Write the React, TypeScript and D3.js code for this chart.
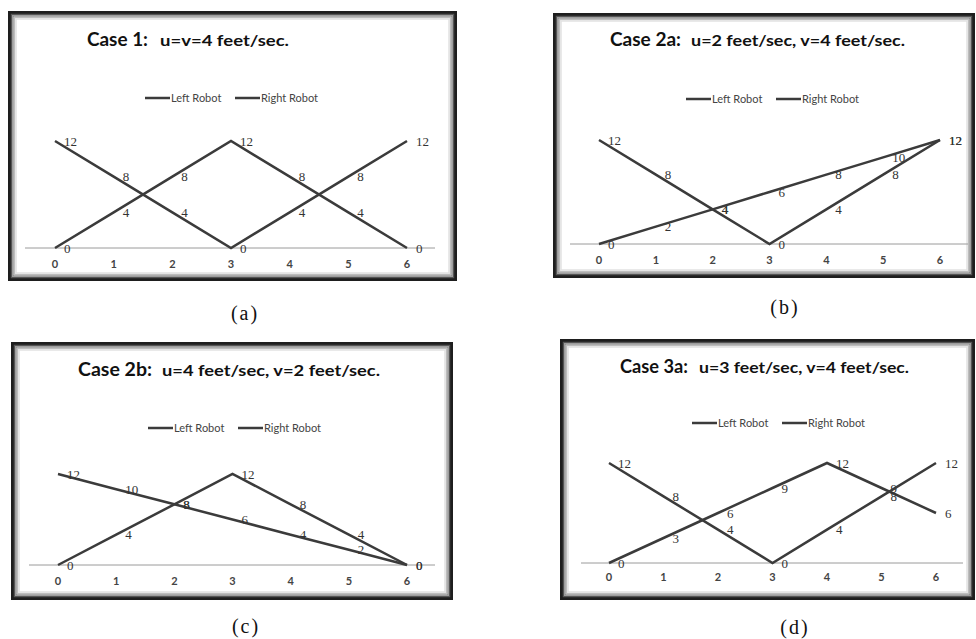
import React from 'react';
import * as d3 from 'd3';

// time steps (seconds) on the x axis
const timeSteps = [0, 1, 2, 3, 4, 5, 6];

// positions (feet) of each robot per case
const case1Left = [0, 4, 8, 12, 8, 4, 0];
const case1Right = [12, 8, 4, 0, 4, 8, 12];
const case2aLeft = [0, 2, 4, 6, 8, 10, 12];
const case2aRight = [12, 8, 4, 0, 4, 8, 12];
const case2bLeft = [0, 4, 8, 12, 8, 4, 0];
const case2bRight = [12, 10, 8, 6, 4, 2, 0];
const case3aLeft = [0, 3, 6, 9, 12, 9, 6];
const case3aRight = [12, 8, 4, 0, 4, 8, 12];

const caseNames = ['Case 1:', 'Case 2a:', 'Case 2b:', 'Case 3a:'];
const caseSpeeds = [
  'u=v=4 feet/sec.',
  'u=2 feet/sec, v=4 feet/sec.',
  'u=4 feet/sec, v=2 feet/sec.',
  'u=3 feet/sec, v=4 feet/sec.',
];
const captions = ['(a)', '(b)', '(c)', '(d)'];
const seriesNames = ['Left Robot', 'Right Robot'];

const LINE = '#3b3b3b';
const SANS = 'Lato, "Open Sans", sans-serif';
const SERIF = '"Liberation Serif", "DejaVu Serif", serif';

// layout for each panel (pixel boxes)
const panels = [
  {
    left: case1Left, right: case1Right,
    frame: { x: 8, y: 11, w: 449, h: 270 },
    title: { x1: 87, w1: 61, x2: 160, w2: 129, y: 46 },
    legend: { x: 145, y: 98 },
    plot: { x0: 55, x1: 407, y0: 248, y1: 141, ax0: 25, ax1: 435, tickY: 268 },
    caption: { x: 245, y: 320 },
  },
  {
    left: case2aLeft, right: case2aRight,
    frame: { x: 553, y: 13, w: 422, h: 265 },
    title: { x1: 610, w1: 71, x2: 691, w2: 214, y: 46 },
    legend: { x: 686, y: 99 },
    plot: { x0: 599, x1: 940, y0: 244, y1: 140, ax0: 570, ax1: 968, tickY: 264 },
    caption: { x: 785, y: 314 },
  },
  {
    left: case2bLeft, right: case2bRight,
    frame: { x: 11, y: 342, w: 442, h: 258 },
    title: { x1: 78, w1: 74, x2: 162, w2: 218, y: 376 },
    legend: { x: 148, y: 428 },
    plot: { x0: 58, x1: 407, y0: 565, y1: 474, ax0: 29, ax1: 435, tickY: 585 },
    caption: { x: 246, y: 633 },
  },
  {
    left: case3aLeft, right: case3aRight,
    frame: { x: 560, y: 339, w: 415, h: 261 },
    title: { x1: 620, w1: 68, x2: 699, w2: 210, y: 373 },
    legend: { x: 692, y: 423 },
    plot: { x0: 609, x1: 936, y0: 563, y1: 463, ax0: 581, ax1: 963, tickY: 581 },
    caption: { x: 795, y: 634 },
  },
];

const Frame = ({ x, y, w, h }) => {
  const layers = [
    { inset: 1.5, color: '#1e1e1e', width: 3 },
    { inset: 3.5, color: '#555', width: 1.5 },
    { inset: 5, color: '#8a8a8a', width: 1.5 },
    { inset: 6.5, color: '#bdbdbd', width: 1.5 },
    { inset: 8, color: '#e2e2e2', width: 1.5 },
  ];
  return (
    <g>
      <rect x={x} y={y} width={w} height={h} fill="#fff" />
      {layers.map((l, i) => (
        <rect
          key={i}
          x={x + l.inset}
          y={y + l.inset}
          width={w - 2 * l.inset}
          height={h - 2 * l.inset}
          fill="none"
          stroke={l.color}
          strokeWidth={l.width}
        />
      ))}
    </g>
  );
};

const Panel = ({ cfg, idx }) => {
  const { plot, title, legend, caption } = cfg;
  const x = d3.scaleLinear().domain([0, 6]).range([plot.x0, plot.x1]);
  const y = d3.scaleLinear().domain([0, 12]).range([plot.y0, plot.y1]);
  const line = d3.line<number>().x((d, i) => x(timeSteps[i])).y(d => y(d));
  const series = [cfg.left, cfg.right];

  return (
    <g>
      <Frame {...cfg.frame} />
      <text y={title.y} fontFamily={SANS} fontWeight={700} fill="#111">
        <tspan x={title.x1} fontSize={19} textLength={title.w1} lengthAdjust="spacingAndGlyphs">
          {caseNames[idx]}
        </tspan>
        <tspan x={title.x2} fontSize={16} textLength={title.w2} lengthAdjust="spacingAndGlyphs">
          {caseSpeeds[idx]}
        </tspan>
      </text>

      {seriesNames.map((name, i) => {
        const lx = legend.x + i * 90;
        return (
          <g key={name}>
            <line x1={lx} x2={lx + 25} y1={legend.y} y2={legend.y} stroke={LINE} strokeWidth={2.5} />
            <text x={lx + 26} y={legend.y} dy="0.35em" fontFamily={SANS} fontSize={11} fill="#444">
              {name}
            </text>
          </g>
        );
      })}

      <line x1={plot.ax0} x2={plot.ax1} y1={y(0)} y2={y(0)} stroke="#9a9a9a" strokeWidth={1} />
      {timeSteps.map(t => (
        <text key={t} x={x(t)} y={plot.tickY} textAnchor="middle" fontFamily={SANS}
          fontWeight={700} fontSize={11} fill="#444">
          {t}
        </text>
      ))}

      {series.map((vals, s) => (
        <g key={s}>
          <path d={line(vals)} fill="none" stroke={LINE} strokeWidth={2.5} />
          {vals.map((v, i) => (
            <text key={i} x={x(timeSteps[i]) + 9} y={y(v)} dy="0.35em" fontFamily={SERIF}
              fontSize={13} fill="#333">
              {v}
            </text>
          ))}
        </g>
      ))}

      <text x={caption.x} y={caption.y} textAnchor="middle" fontFamily={SERIF} fontSize={20}
        fill="#111" letterSpacing={2}>
        {captions[idx]}
      </text>
    </g>
  );
};

export default function App() {
  return (
    <svg width={976} height={639} style={{ position: 'absolute', left: 0, top: 0, background: '#fff' }}>
      {panels.map((p, i) => (
        <Panel key={i} cfg={p} idx={i} />
      ))}
    </svg>
  );
}
